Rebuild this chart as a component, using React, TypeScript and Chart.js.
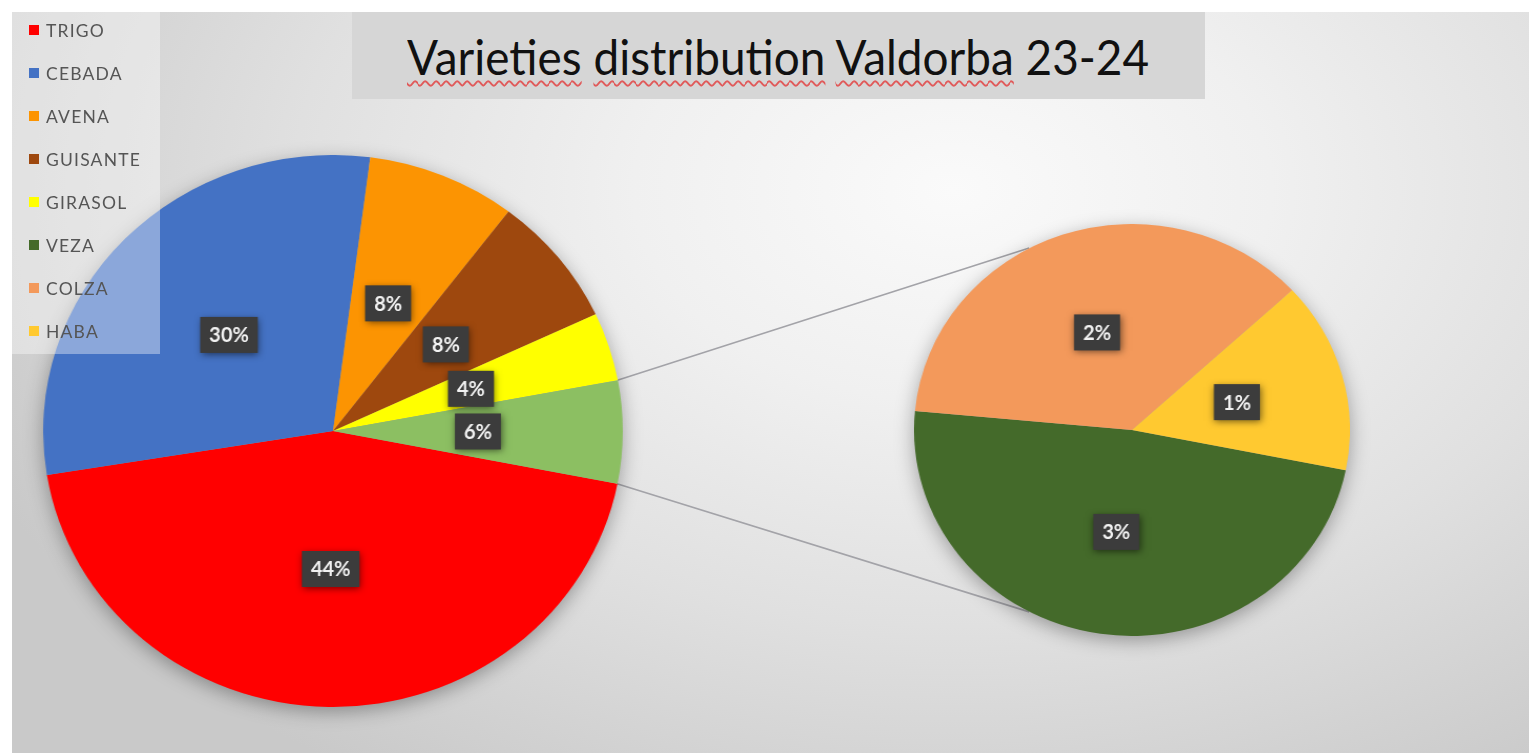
import React, { useEffect, useRef } from "react";
import { Chart, registerables } from "chart.js";

Chart.register(...registerables);

// ---------- data ----------
const mainLabels = ["TRIGO", "CEBADA", "AVENA", "GUISANTE", "GIRASOL"];
const mainValues = [44.4, 29.6, 8.3, 7.7, 4.0];
const mainColors = ["#FF0000", "#4472C4", "#FC9402", "#9E480E", "#FFFF00"];
const otherLabel = "Otros";
const otherColor = "#8CBF62";
const subLabels = ["VEZA", "COLZA", "HABA"];
const subValues = [2.9, 2.2, 0.9];
const subColors = ["#446A2A", "#F3995B", "#FFC930"];
const titleWords = ["Varieties", "distribution", "Valdorba", "23-24"];
const underlinedWords = ["Varieties", "distribution", "Valdorba"];

const legendLabels = [...mainLabels, ...subLabels];
const legendColors = [...mainColors, ...subColors];

// ---------- layout (wrapper coords) ----------
const WRAP_W = 1517;
const WRAP_H = 741;
const MAIN_SIZE = 552;
const MAIN_LEFT = 44.5;
const MAIN_TOP = 143;
const MAIN_SX = 1.05;
const SUB_SIZE = 412;
const SUB_LEFT = 913.5;
const SUB_TOP = 212;
const SUB_SX = 1.058;
const CONNECT_DEG = 118;

function makeLabelPlugin(sx: number, total: number) {
  return {
    id: "pctLabels",
    afterDatasetsDraw(chart: any) {
      const ctx: CanvasRenderingContext2D = chart.ctx;
      const meta = chart.getDatasetMeta(0);
      const data = chart.data.datasets[0].data as number[];
      meta.data.forEach((arc: any, i: number) => {
        const p = arc.getCenterPoint();
        const txt = Math.round((data[i] / total) * 100) + "%";
        ctx.save();
        ctx.translate(p.x, p.y);
        ctx.scale(1 / sx, 1);
        ctx.font = "bold 20px Lato";
        const w = ctx.measureText(txt).width + 18;
        const h = 36;
        ctx.shadowColor = "rgba(0,0,0,0.55)";
        ctx.shadowBlur = 7;
        ctx.shadowOffsetX = 1;
        ctx.shadowOffsetY = 2;
        ctx.fillStyle = "#3c3c3c";
        ctx.fillRect(-w / 2, -h / 2, w, h);
        ctx.shadowColor = "transparent";
        ctx.fillStyle = "#f2f2f2";
        ctx.textAlign = "center";
        ctx.textBaseline = "middle";
        ctx.fillText(txt, 0, 1);
        ctx.restore();
      });
    },
  };
}

export default function App() {
  const mainRef = useRef<HTMLCanvasElement>(null);
  const subRef = useRef<HTMLCanvasElement>(null);
  const lineRef = useRef<HTMLCanvasElement>(null);
  const titleRef = useRef<HTMLSpanElement>(null);

  useEffect(() => {
    const subTotal = subValues.reduce((a, b) => a + b, 0);
    const total = mainValues.reduce((a, b) => a + b, 0) + subTotal;

    const mainChart = new Chart(mainRef.current as HTMLCanvasElement, {
      type: "pie",
      data: {
        labels: [...mainLabels, otherLabel],
        datasets: [
          {
            data: [...mainValues, subTotal],
            backgroundColor: [...mainColors, otherColor],
            borderWidth: 0,
            hoverOffset: 0,
            offset: 0,
          } as any,
        ],
      },
      options: {
        responsive: false,
        animation: false,
        rotation: 101,
        layout: { padding: 0 },
        events: [],
        plugins: { legend: { display: false }, tooltip: { enabled: false }, title: { display: false } },
      } as any,
      plugins: [makeLabelPlugin(MAIN_SX, total)],
    });

    const subChart = new Chart(subRef.current as HTMLCanvasElement, {
      type: "pie",
      data: {
        labels: subLabels,
        datasets: [
          {
            data: subValues,
            backgroundColor: subColors,
            borderWidth: 0,
            hoverOffset: 0,
            offset: 0,
          } as any,
        ],
      },
      options: {
        responsive: false,
        animation: false,
        rotation: 101.3,
        layout: { padding: 0 },
        events: [],
        plugins: { legend: { display: false }, tooltip: { enabled: false }, title: { display: false } },
      } as any,
      plugins: [makeLabelPlugin(SUB_SX, total)],
    });

    // connector lines from the "other" slice to the secondary pie
    const lc = lineRef.current as HTMLCanvasElement;
    const lctx = lc.getContext("2d") as CanvasRenderingContext2D;
    lctx.clearRect(0, 0, lc.width, lc.height);
    const mArc: any = mainChart.getDatasetMeta(0).data[mainValues.length];
    const mp = mArc.getProps(["x", "y", "startAngle", "endAngle", "outerRadius"], true);
    const sArc: any = subChart.getDatasetMeta(0).data[0];
    const sp = sArc.getProps(["x", "y", "outerRadius"], true);
    const mainPt = (a: number) => [
      MAIN_LEFT + MAIN_SIZE / 2 + (mp.x + mp.outerRadius * Math.cos(a) - MAIN_SIZE / 2) * MAIN_SX,
      MAIN_TOP + mp.y + mp.outerRadius * Math.sin(a),
    ];
    const subPt = (a: number) => [
      SUB_LEFT + SUB_SIZE / 2 + (sp.x + sp.outerRadius * Math.cos(a) - SUB_SIZE / 2) * SUB_SX,
      SUB_TOP + sp.y + sp.outerRadius * Math.sin(a),
    ];
    const a1 = mainPt(mp.startAngle);
    const a2 = mainPt(mp.endAngle);
    const b1 = subPt((-CONNECT_DEG * Math.PI) / 180);
    const b2 = subPt((CONNECT_DEG * Math.PI) / 180);
    lctx.strokeStyle = "#a3a3a8";
    lctx.lineWidth = 1.6;
    lctx.beginPath();
    lctx.moveTo(a1[0], a1[1]);
    lctx.lineTo(b1[0], b1[1]);
    lctx.moveTo(a2[0], a2[1]);
    lctx.lineTo(b2[0], b2[1]);
    lctx.stroke();

    // fit title width like the narrow original face
    if (titleRef.current) {
      const w = titleRef.current.offsetWidth;
      if (w > 0) titleRef.current.style.transform = `scaleX(${742 / w})`;
    }

    return () => {
      mainChart.destroy();
      subChart.destroy();
    };
  }, []);

  return (
    <div
      style={{
        position: "absolute",
        left: 12,
        top: 12,
        width: WRAP_W,
        height: WRAP_H,
        overflow: "hidden",
        background:
          "radial-gradient(ellipse 70% 95% at 62% 24%, #fafafa 0%, #f0f0f0 30%, #e0e0e0 62%, #d2d2d2 85%, #c9c9c9 100%)",
        fontFamily: "Lato, 'Open Sans', sans-serif",
      }}
    >
      <canvas
        ref={lineRef}
        width={WRAP_W}
        height={WRAP_H}
        style={{ position: "absolute", left: 0, top: 0, zIndex: 1 }}
      />
      <canvas
        ref={mainRef}
        width={MAIN_SIZE}
        height={MAIN_SIZE}
        style={{
          position: "absolute",
          left: MAIN_LEFT,
          top: MAIN_TOP,
          width: MAIN_SIZE,
          height: MAIN_SIZE,
          zIndex: 2,
          transform: `scaleX(${MAIN_SX})`,
          transformOrigin: "50% 50%",
          filter: "drop-shadow(0px 5px 9px rgba(0,0,0,0.32))",
        }}
      />
      <canvas
        ref={subRef}
        width={SUB_SIZE}
        height={SUB_SIZE}
        style={{
          position: "absolute",
          left: SUB_LEFT,
          top: SUB_TOP,
          width: SUB_SIZE,
          height: SUB_SIZE,
          zIndex: 2,
          transform: `scaleX(${SUB_SX})`,
          transformOrigin: "50% 50%",
          filter: "drop-shadow(0px 5px 9px rgba(0,0,0,0.32))",
        }}
      />
      {/* legend */}
      <div
        style={{
          position: "absolute",
          left: 0,
          top: 0,
          width: 148,
          height: 342,
          background: "rgba(255,255,255,0.38)",
          zIndex: 3,
        }}
      >
        {legendLabels.map((lab, i) => (
          <div
            key={lab}
            style={{
              position: "absolute",
              left: 17,
              top: 18 + i * 43 - 10,
              height: 20,
              display: "flex",
              alignItems: "center",
              whiteSpace: "nowrap",
            }}
          >
            <span
              style={{
                display: "inline-block",
                width: 10,
                height: 10,
                background: legendColors[i],
                marginRight: 7,
              }}
            />
            <span style={{ fontSize: 17.5, color: "#555555", letterSpacing: 1.2 }}>{lab}</span>
          </div>
        ))}
      </div>
      {/* title */}
      <div
        style={{
          position: "absolute",
          left: 340,
          top: 0,
          width: 853,
          height: 87,
          background: "#d6d6d6",
          zIndex: 3,
          display: "flex",
          alignItems: "center",
          justifyContent: "center",
        }}
      >
        <span
          ref={titleRef}
          style={{
            display: "inline-block",
            fontSize: 48,
            color: "#111111",
            whiteSpace: "nowrap",
            transformOrigin: "50% 50%",
            marginTop: 2,
          }}
        >
          {titleWords.map((w, i) => (
            <React.Fragment key={w}>
              <span
                style={
                  underlinedWords.includes(w)
                    ? {
                        textDecorationLine: "underline",
                        textDecorationStyle: "wavy",
                        textDecorationColor: "#e05a5a",
                        textDecorationThickness: "1.5px",
                        textUnderlineOffset: "5px",
                      }
                    : undefined
                }
              >
                {w}
              </span>
              {i < titleWords.length - 1 ? " " : ""}
            </React.Fragment>
          ))}
        </span>
      </div>
    </div>
  );
}
